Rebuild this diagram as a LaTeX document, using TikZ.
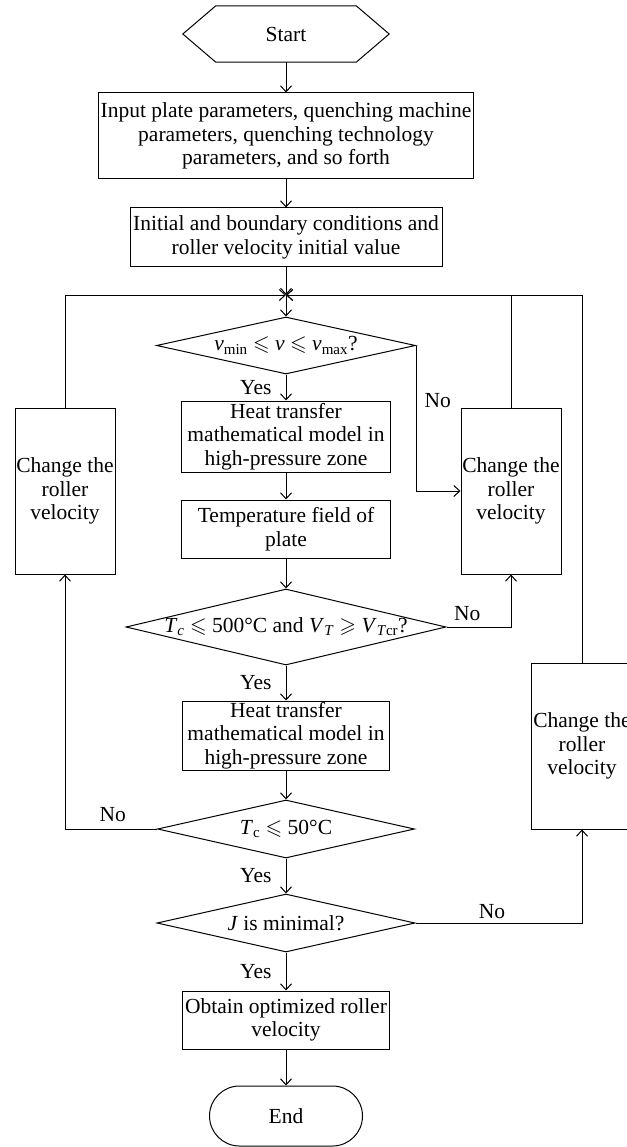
\documentclass[tikz,border=0pt]{standalone}
\usepackage{fontspec}
\setmainfont{Liberation Serif}
\usepackage{amssymb}
\usetikzlibrary{shapes.geometric,arrows.meta,calc}
\begin{document}
\begin{tikzpicture}[x=1pt,y=-1pt,
  txt/.style={font=\fontsize{21.5}{23.5}\selectfont},
  box/.style={txt,draw,line width=1pt,rectangle,align=center,inner xsep=0.5pt,inner ysep=0pt},
  dia/.style={draw,diamond,line width=1pt,inner sep=0pt},
  arr/.style={-{Straight Barb[length=6pt,width=11pt,line width=1pt]},line width=1pt},
  lab/.style={txt,inner sep=0pt}]
\useasboundingbox (0,0) rectangle (626,1147);

% start hexagon
\node[txt,minimum width=206pt,minimum height=56pt,inner sep=0pt] (start) at (286,34) {Start};
\draw[line width=1pt] (start.west) -- ($(start.north west)+(33,0)$) -- ($(start.north east)+(-33,0)$)
  -- (start.east) -- ($(start.south east)+(-33,0)$) -- ($(start.south west)+(33,0)$) -- cycle;

\node[box,minimum width=375pt,minimum height=86pt] (input) at (286,136)
  {Input plate parameters, quenching machine\\parameters, quenching technology\\parameters, and so forth};
\node[box,minimum width=312pt,minimum height=59pt] (init) at (286,237.5)
  {Initial and boundary conditions and\\roller velocity initial value};
\coordinate (j) at (286,295);

\node[dia,minimum width=259pt,minimum height=57pt,
  label={[txt]center:\textit{v}\textsubscript{min} $\leqslant$ \textit{v} $\leqslant$ \textit{v}\textsubscript{max}?}] (d1) at (286,345.5) {};
\node[box,minimum width=209pt,minimum height=71pt] (ht1) at (286,436.5)
  {Heat transfer\\mathematical model in\\high-pressure zone};
\node[box,minimum width=209pt,minimum height=58pt] (temp) at (286,529)
  {Temperature field of\\plate};
\node[dia,minimum width=320pt,minimum height=76pt,
  label={[txt]center:\textit{T}\textsubscript{\textit{c}} $\leqslant$ 500°C and \textit{V}\textsubscript{\textit{T}} $\geqslant$ \textit{V}\textsubscript{\textit{T}cr}?}] (d2) at (286,627) {};
\node[box,minimum width=207pt,minimum height=69pt] (ht2) at (286,735.5)
  {Heat transfer\\mathematical model in\\high-pressure zone};
\node[dia,minimum width=257pt,minimum height=58pt,
  label={[txt]center:\textit{T}\textsubscript{c} $\leqslant$ 50°C}] (d3) at (286,829) {};
\node[dia,minimum width=258pt,minimum height=58pt,
  label={[txt]center:\textit{J} is minimal?}] (d4) at (286,923) {};
\node[box,minimum width=207pt,minimum height=58pt] (obt) at (286,1020)
  {Obtain optimized roller\\velocity};
\node[txt,draw,line width=1pt,rounded corners=30pt,minimum width=153pt,minimum height=60pt] (end) at (286,1116) {End};

\node[box,minimum width=100pt,minimum height=166pt] (cl) at (65,491) {Change the\\roller\\velocity};
\node[box,minimum width=100pt,minimum height=166pt] (cr1) at (511,491) {Change the\\roller\\velocity};
\node[box,minimum width=102pt,minimum height=166pt] (cr2) at (582,746) {Change the\\roller\\velocity};

% main flow
\draw[arr] (start) -- (input);
\draw[arr] (input) -- (init);
\draw[arr] (init) -- (j);
\draw[arr] (j) -- (d1);
\draw[arr] (d1) -- node[lab,left=14pt] (y1) {Yes} (ht1);
\draw[arr] (ht1) -- (temp);
\draw[arr] (temp) -- (d2);
\draw[arr] (d2) -- node[lab,left=14pt] (y2) {Yes} (ht2);
\draw[arr] (ht2) -- (d3);
\draw[arr] (d3) -- node[lab,left=14pt] (y3) {Yes} (d4);
\draw[arr] (d4) -- node[lab,left=14pt] (y4) {Yes} (obt);
\draw[arr] (obt) -- (end);

% No branches
\draw[arr] (d1.east) |- node[lab,right=8pt,pos=0.19] (n1) {No} (cr1.west);
\draw[arr] (d2.east) -| node[lab,above=6pt,pos=0.16] (n2) {No} (cr1.south);
\draw[arr] (d3.west) -| node[lab,above=7pt,pos=0.24] (n3) {No} (cl.south);
\draw[arr] (d4.east) -| node[lab,above=4pt,pos=0.23] (n4) {No} (cr2.south);

% loops back
\draw[arr] (cl.north) |- (j);
\draw[arr] (cr1.north) |- (j);
\draw[arr] (cr2.north) |- (j);
\end{tikzpicture}
\end{document}
